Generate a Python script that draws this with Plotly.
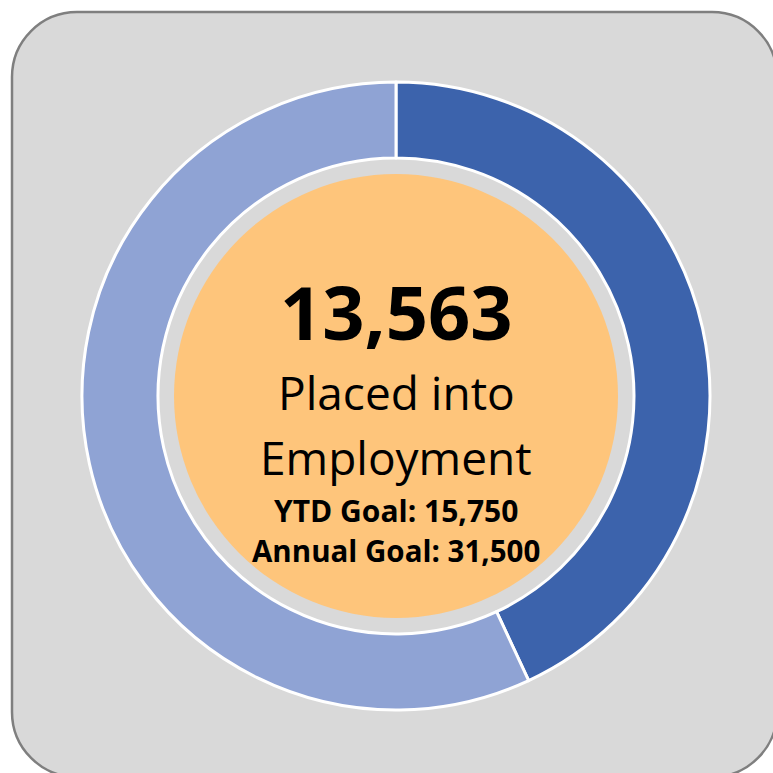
import plotly.graph_objects as go

# Placement progress toward the annual goal
labels = ["Placed into Employment", "Remaining to Annual Goal"]
placed = 13563
annual_goal = 31500
ytd_goal = 15750
values = [placed, annual_goal - placed]
slice_colors = ["#3c63ac", "#8fa3d4"]

W = H = 773


def px_x(p):
    return p / W


def px_y(p):
    return (H - p) / H


def rounded_rect_path(x0, y0, x1, y1, r):
    # x/y in pixels (y downward), converted to paper units; corners drawn with cubic Beziers
    k = 0.5523 * r
    pts = []
    pts.append(f"M {px_x(x0 + r)},{px_y(y0)}")
    pts.append(f"L {px_x(x1 - r)},{px_y(y0)}")
    pts.append(f"C {px_x(x1 - r + k)},{px_y(y0)} {px_x(x1)},{px_y(y0 + r - k)} {px_x(x1)},{px_y(y0 + r)}")
    pts.append(f"L {px_x(x1)},{px_y(y1 - r)}")
    pts.append(f"C {px_x(x1)},{px_y(y1 - r + k)} {px_x(x1 - r + k)},{px_y(y1)} {px_x(x1 - r)},{px_y(y1)}")
    pts.append(f"L {px_x(x0 + r)},{px_y(y1)}")
    pts.append(f"C {px_x(x0 + r - k)},{px_y(y1)} {px_x(x0)},{px_y(y1 - r + k)} {px_x(x0)},{px_y(y1 - r)}")
    pts.append(f"L {px_x(x0)},{px_y(y0 + r)}")
    pts.append(f"C {px_x(x0)},{px_y(y0 + r - k)} {px_x(x0 + r - k)},{px_y(y0)} {px_x(x0 + r)},{px_y(y0)}")
    pts.append("Z")
    return " ".join(pts)


cx, cy = 396, 396
outer_r = 314
inner_r = 238
center_r = 222

fig = go.Figure(
    go.Pie(
        labels=labels,
        values=values,
        sort=False,
        direction="clockwise",
        rotation=0,
        hole=inner_r / outer_r,
        marker=dict(colors=slice_colors, line=dict(color="white", width=3)),
        textinfo="none",
        hoverinfo="label+value",
        showlegend=False,
        domain=dict(
            x=[px_x(cx - outer_r), px_x(cx + outer_r)],
            y=[px_y(cy + outer_r), px_y(cy - outer_r)],
        ),
    )
)

shapes = [
    dict(
        type="path",
        xref="paper",
        yref="paper",
        path=rounded_rect_path(12, 12, 777, 777, 65),
        fillcolor="#d9d9d9",
        line=dict(color="#7f7f7f", width=2.5),
        layer="below",
    ),
    dict(
        type="circle",
        xref="paper",
        yref="paper",
        x0=px_x(cx - center_r),
        x1=px_x(cx + center_r),
        y0=px_y(cy + center_r),
        y1=px_y(cy - center_r),
        fillcolor="#fec57b",
        line=dict(width=0),
        layer="above",
    ),
]

font_family = "Open Sans, Lato, Noto Sans, sans-serif"
text_lines = [
    (f"<b>{placed:,}</b>", 311, 74),
    ("Placed into", 392, 46),
    ("Employment", 457, 46),
    (f"<b>YTD Goal: {ytd_goal:,}</b>", 510, 30),
    (f"<b>Annual Goal: {annual_goal:,}</b>", 550, 29.5),
]
annotations = [
    dict(
        text=t,
        x=px_x(cx),
        y=px_y(yc),
        xref="paper",
        yref="paper",
        xanchor="center",
        yanchor="middle",
        showarrow=False,
        font=dict(family=font_family, size=s, color="black"),
    )
    for t, yc, s in text_lines
]

fig.update_layout(
    width=W,
    height=H,
    margin=dict(l=0, r=0, t=0, b=0),
    paper_bgcolor="white",
    plot_bgcolor="white",
    shapes=shapes,
    annotations=annotations,
)

fig.write_html("out.html")
